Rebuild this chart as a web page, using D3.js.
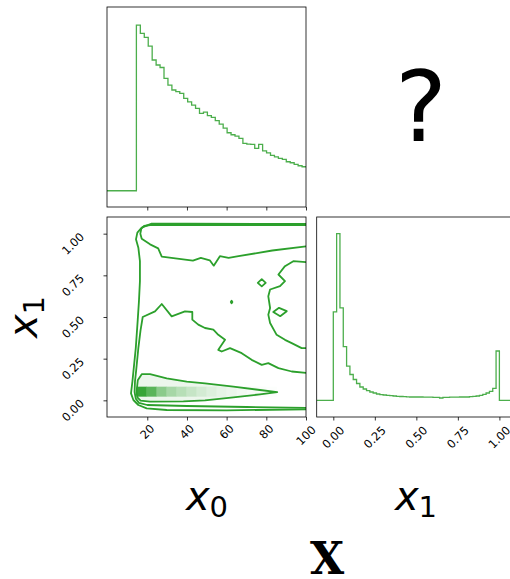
<!DOCTYPE html>
<html>
<head>
<meta charset="utf-8">
<script src="https://cdn.jsdelivr.net/npm/d3@7"></script>
<style>
  body { margin: 0; background: #fff; }
  svg { display: block; }
</style>
</head>
<body>
<svg width="510" height="579"></svg>
<script>
// ---- data ----
const x0Ticks = [20, 40, 60, 80, 100]
const x1Ticks = [0, 0.25, 0.5, 0.75, 1]
const x1TickLabels = ['0.00', '0.25', '0.50', '0.75', '1.00']

// marginal histogram of x0 (50 bins, peak = 1)
const x0BinStart = 0.6
const x0BinWidth = 1.988
const x0Hist = [0, 0, 0, 0, 0, 0, 0,
  1.000, 0.950, 0.926, 0.873, 0.789, 0.759, 0.744, 0.678, 0.638, 0.608,
  0.598, 0.588, 0.557, 0.537, 0.517, 0.497, 0.467, 0.475, 0.453, 0.443,
  0.423, 0.402, 0.378, 0.350, 0.338, 0.330, 0.316, 0.286, 0.282, 0.280,
  0.256, 0.280, 0.241, 0.229, 0.213, 0.205, 0.195, 0.189, 0.175, 0.169,
  0.159, 0.151, 0.145]

// marginal histogram of x1 (50 bins on [0, 1], peak = 1)
const x1BinStart = 0
const x1BinWidth = 0.02
const x1Hist = [0.531, 1.000, 0.555, 0.322, 0.205, 0.155, 0.125, 0.101, 0.080, 0.068,
  0.058, 0.050, 0.044, 0.038, 0.034, 0.032, 0.030, 0.028, 0.026, 0.024,
  0.023, 0.022, 0.021, 0.020, 0.020, 0.020, 0.020, 0.019, 0.019, 0.019,
  0.018, 0.018, 0.014, 0.018, 0.018, 0.019, 0.019, 0.019, 0.020, 0.020,
  0.020, 0.022, 0.024, 0.026, 0.030, 0.036, 0.044, 0.054, 0.072, 0.296]

// 2d density: one row of cells near x1 = 0.05
const densityX0Start = 14.6
const densityX0Width = 5.04
const densityX1Range = [0.022, 0.082]
const densityVals = [0.95, 0.78, 0.55, 0.42, 0.34, 0.27, 0.21, 0.16, 0.12, 0.09, 0.06, 0.04, 0.025, 0.015]

// contour lines as [x0, x1] points
const contourOuter = [[101, 1.058], [40, 1.060], [22.2, 1.060], [17.2, 1.036], [15.0, 1.006], [14.3, 0.966],
  [15.5, 0.916], [16.3, 0.835], [16.3, 0.715], [15.8, 0.594], [15.2, 0.484], [14.2, 0.313], [12.5, 0.112],
  [11.8, 0.042], [13.0, 0.002], [15.5, -0.028], [19.7, -0.048], [29.8, -0.058], [60, -0.060], [101, -0.054]]
const contourTop = [[101, 1.052], [21.4, 1.052], [18.4, 1.046], [17.0, 1.030], [16.5, 1.000], [17.2, 0.970],
  [21.4, 0.936], [25.5, 0.912], [27.3, 0.862], [43, 0.838], [47.0, 0.855], [51.5, 0.840], [53.5, 0.808],
  [56.6, 0.865], [61, 0.855], [66, 0.865], [83, 0.899], [101, 0.925]]
const contourRight = [[101, 0.829], [93.6, 0.835], [89.4, 0.805], [86.1, 0.755], [89.4, 0.715], [86.9, 0.685],
  [81.9, 0.665], [81.0, 0.624], [81.9, 0.554], [81.0, 0.514], [81.9, 0.464], [85.2, 0.393], [89.4, 0.363],
  [92.8, 0.343], [97.8, 0.313], [101, 0.313]]
const contourMid = [[101, 0.163], [92.8, 0.173], [86.1, 0.193], [81.0, 0.223], [77.7, 0.213], [72.6, 0.243],
  [67.6, 0.283], [61.7, 0.313], [57.5, 0.293], [55.8, 0.303], [59.2, 0.363], [55.8, 0.393], [53.3, 0.424],
  [49.1, 0.434], [45.7, 0.454], [42.7, 0.484], [42.7, 0.530], [39.0, 0.534], [32.3, 0.504], [27.3, 0.578],
  [23.9, 0.534], [17.7, 0.500], [16.6, 0.420], [15.5, 0.313], [14.4, 0.180], [13.8, 0.112], [13.6, 0.050],
  [14.2, 0.010], [15.8, -0.015], [20, -0.028], [40, -0.034], [70, -0.040], [101, -0.046]]
const contourInner = [[14.6, 0.050], [15.2, 0.120], [17.2, 0.157], [21.4, 0.157], [29.8, 0.132], [39.9, 0.112],
  [49.1, 0.102], [63.4, 0.082], [76.8, 0.062], [85.5, 0.049], [76.8, 0.036], [63.4, 0.018], [49.1, 0.000],
  [38.2, -0.006], [21.4, -0.008], [16.6, -0.002], [15.0, 0.018]]
const islandA = [[75.7, 0.705], [77.7, 0.727], [79.7, 0.705], [77.7, 0.684]]
const islandB = [[83.5, 0.530], [86.4, 0.555], [90.3, 0.535], [87.0, 0.505]]
const islandDot = [[62.1, 0.590], [62.5, 0.598], [62.9, 0.590], [62.5, 0.582]]

// ---- layout ----
const svg = d3.select('svg')
const green = '#2ca02c'
const histColor = '#4cae4c'
const font = 'DejaVu Sans'
const tickFont = 11.5

const x0 = d3.scaleLinear().domain([-0.3, 100]).range([107, 306])
const x1 = d3.scaleLinear().domain([-0.1, 1.1]).range([316.7, 516])
const yTop = d3.scaleLinear().domain([-0.098, 1.109]).range([207, 7])
const y1 = d3.scaleLinear().domain([-0.1, 1.1]).range([417, 217])
const yRight = d3.scaleLinear().domain([-0.1, 1.1]).range([417, 217])

function stepPoints(start, width, vals, lo, hi) {
  const pts = [[lo, 0], [start, 0]]
  vals.forEach((v, i) => {
    pts.push([start + i * width, v])
    pts.push([start + (i + 1) * width, v])
  })
  const end = start + vals.length * width
  if (end < hi - 0.01) pts.push([end, 0], [hi, 0])
  return pts
}

function clip(id, xs, ys) {
  svg.append('clipPath').attr('id', id)
    .append('rect')
    .attr('x', xs.range()[0]).attr('y', ys.range()[1])
    .attr('width', xs.range()[1] - xs.range()[0])
    .attr('height', ys.range()[0] - ys.range()[1])
}

function frame(xs, ys) {
  svg.append('rect')
    .attr('x', xs.range()[0]).attr('y', ys.range()[1])
    .attr('width', xs.range()[1] - xs.range()[0])
    .attr('height', ys.range()[0] - ys.range()[1])
    .attr('fill', 'none').attr('stroke', '#000').attr('stroke-width', 0.8)
}

function bottomTicks(xs, ys, ticks) {
  const g = svg.append('g')
    .attr('transform', `translate(0,${ys.range()[0]})`)
    .call(d3.axisBottom(xs).tickValues(ticks).tickSize(3.5).tickFormat(''))
  g.select('.domain').remove()
  g.selectAll('line').attr('stroke', '#000').attr('stroke-width', 0.8)
}

function bottomLabels(xs, ys, ticks, labels) {
  ticks.forEach((t, i) => {
    const txt = svg.append('text')
      .text(labels[i])
      .attr('font-family', font).attr('font-size', tickFont)
      .attr('text-anchor', 'middle').attr('dominant-baseline', 'central')
    const w = txt.node().getComputedTextLength()
    const bh = 0.707 * (w + 0.73 * tickFont)
    txt.attr('transform', `translate(${xs(t)},${ys.range()[0] + 3 + bh * 0.72}) rotate(-45)`)
  })
}

// ---- top: x0 histogram ----
clip('clipTop', x0, yTop)
svg.append('path')
  .datum(stepPoints(x0BinStart, x0BinWidth, x0Hist, x0.domain()[0], x0.domain()[1]))
  .attr('clip-path', 'url(#clipTop)')
  .attr('d', d3.line().x(d => x0(d[0])).y(d => yTop(d[1])))
  .attr('fill', 'none').attr('stroke', histColor).attr('stroke-width', 1.3)
frame(x0, yTop)
bottomTicks(x0, yTop, x0Ticks)

// ---- bottom-left: 2d contours ----
clip('clipMid', x0, y1)
const cg = svg.append('g').attr('clip-path', 'url(#clipMid)')
const line2d = d3.line().x(d => x0(d[0])).y(d => y1(d[1]))

cg.append('path')
  .attr('d', line2d(contourInner) + 'Z')
  .attr('fill', green).attr('fill-opacity', 0.09)

const densityColor = d3.interpolateRgb('#ffffff', green)
cg.selectAll('rect.cell')
  .data(densityVals)
  .join('rect')
  .attr('class', 'cell')
  .attr('x', (d, i) => x0(densityX0Start + i * densityX0Width))
  .attr('y', y1(densityX1Range[1]))
  .attr('width', x0(densityX0Width) - x0(0) + 0.3)
  .attr('height', y1(densityX1Range[0]) - y1(densityX1Range[1]))
  .attr('fill', d => densityColor(d))

const openLines = [contourOuter, contourTop, contourRight, contourMid]
cg.selectAll('path.open')
  .data(openLines)
  .join('path')
  .attr('class', 'open')
  .attr('d', d => line2d(d))
  .attr('fill', 'none').attr('stroke', green).attr('stroke-width', 1.8)
  .attr('stroke-linejoin', 'round')

const closedLines = [contourInner, islandA, islandB, islandDot]
cg.selectAll('path.closed')
  .data(closedLines)
  .join('path')
  .attr('class', 'closed')
  .attr('d', d => line2d(d) + 'Z')
  .attr('fill', 'none').attr('stroke', green).attr('stroke-width', 1.8)
  .attr('stroke-linejoin', 'round')

frame(x0, y1)
bottomTicks(x0, y1, x0Ticks)
bottomLabels(x0, y1, x0Ticks, x0Ticks.map(String))

const yAxis = svg.append('g')
  .attr('transform', `translate(${x0.range()[0]},0)`)
  .call(d3.axisLeft(y1).tickValues(x1Ticks).tickSize(3.5).tickFormat(''))
yAxis.select('.domain').remove()
yAxis.selectAll('line').attr('stroke', '#000').attr('stroke-width', 0.8)
x1Ticks.forEach((t, i) => {
  svg.append('text')
    .text(x1TickLabels[i])
    .attr('font-family', font).attr('font-size', tickFont)
    .attr('text-anchor', 'end').attr('dominant-baseline', 'central')
    .attr('transform', `translate(82,${y1(t) + 1}) rotate(-45)`)
})

// ---- bottom-right: x1 histogram ----
clip('clipRight', x1, yRight)
svg.append('path')
  .datum(stepPoints(x1BinStart, x1BinWidth, x1Hist, x1.domain()[0], x1.domain()[1]))
  .attr('clip-path', 'url(#clipRight)')
  .attr('d', d3.line().x(d => x1(d[0])).y(d => yRight(d[1])))
  .attr('fill', 'none').attr('stroke', histColor).attr('stroke-width', 1.3)
frame(x1, yRight)
bottomTicks(x1, yRight, x1Ticks)
bottomLabels(x1, yRight, x1Ticks, x1TickLabels)

// ---- labels ----
function mathLabel(x, y, sub, rotate) {
  const t = svg.append('text')
    .attr('font-family', font).attr('text-anchor', 'middle')
    .attr('transform', `translate(${x},${y})` + (rotate ? ' rotate(-90)' : ''))
  t.append('tspan').text('x').attr('font-size', 40).attr('font-style', 'italic')
  t.append('tspan').text(sub).attr('font-size', 29).attr('dy', 7)
}
mathLabel(207, 510, '0', false)
mathLabel(416, 510, '1', false)
mathLabel(37, 317, '1', true)

svg.append('text')
  .text('X')
  .attr('x', 327).attr('y', 574)
  .attr('text-anchor', 'middle')
  .attr('font-family', 'DejaVu Serif').attr('font-weight', 'bold').attr('font-size', 44)

svg.append('text')
  .text('?')
  .attr('x', 421).attr('y', 141)
  .attr('text-anchor', 'middle')
  .attr('font-family', font).attr('font-size', 98)
</script>
</body>
</html>
